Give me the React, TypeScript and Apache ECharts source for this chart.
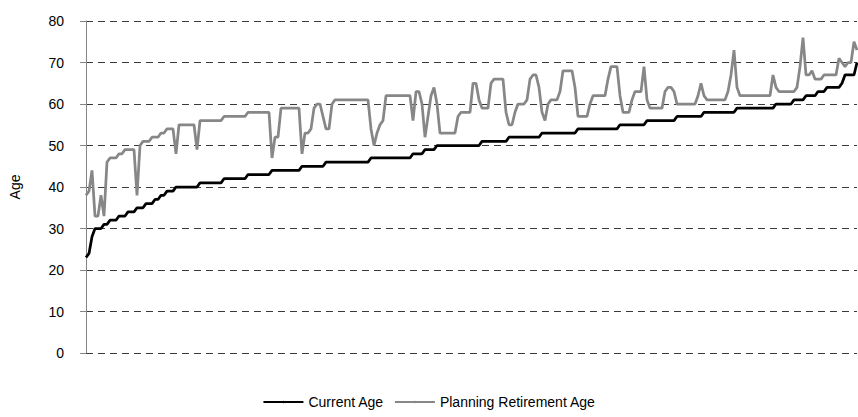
import React, { useEffect, useRef } from "react";
import * as echarts from "echarts";

// Current age of each respondent (sorted ascending)
const currentAge: number[] = [
  23, 24, 28, 30, 30, 30, 31, 31, 32, 32,
  32, 33, 33, 33, 34, 34, 34, 35, 35, 35,
  36, 36, 36, 37, 37, 38, 38, 39, 39, 39,
  40, 40, 40, 40, 40, 40, 40, 40, 41, 41,
  41, 41, 41, 41, 41, 41, 42, 42, 42, 42,
  42, 42, 42, 42, 43, 43, 43, 43, 43, 43,
  43, 43, 44, 44, 44, 44, 44, 44, 44, 44,
  44, 44, 45, 45, 45, 45, 45, 45, 45, 45,
  46, 46, 46, 46, 46, 46, 46, 46, 46, 46,
  46, 46, 46, 46, 46, 47, 47, 47, 47, 47,
  47, 47, 47, 47, 47, 47, 47, 47, 47, 48,
  48, 48, 48, 49, 49, 49, 49, 50, 50, 50,
  50, 50, 50, 50, 50, 50, 50, 50, 50, 50,
  50, 50, 51, 51, 51, 51, 51, 51, 51, 51,
  51, 52, 52, 52, 52, 52, 52, 52, 52, 52,
  52, 52, 53, 53, 53, 53, 53, 53, 53, 53,
  53, 53, 53, 53, 54, 54, 54, 54, 54, 54,
  54, 54, 54, 54, 54, 54, 54, 54, 55, 55,
  55, 55, 55, 55, 55, 55, 55, 56, 56, 56,
  56, 56, 56, 56, 56, 56, 56, 57, 57, 57,
  57, 57, 57, 57, 57, 57, 58, 58, 58, 58,
  58, 58, 58, 58, 58, 58, 58, 59, 59, 59,
  59, 59, 59, 59, 59, 59, 59, 59, 59, 59,
  60, 60, 60, 60, 60, 60, 61, 61, 61, 61,
  62, 62, 62, 62, 63, 63, 63, 64, 64, 64,
  64, 64, 65, 67, 67, 67, 67, 70,
];

// Planned retirement age of the same respondents
const retirementAge: number[] = [
  38, 39, 44, 33, 33, 38, 33, 46, 47, 47,
  47, 48, 48, 49, 49, 49, 49, 38, 50, 51,
  51, 51, 52, 52, 52, 53, 53, 54, 54, 54,
  48, 55, 55, 55, 55, 55, 55, 49, 56, 56,
  56, 56, 56, 56, 56, 56, 57, 57, 57, 57,
  57, 57, 57, 57, 58, 58, 58, 58, 58, 58,
  58, 58, 47, 52, 52, 59, 59, 59, 59, 59,
  59, 59, 48, 53, 53, 54, 59, 60, 60, 57,
  54, 54, 60, 61, 61, 61, 61, 61, 61, 61,
  61, 61, 61, 61, 61, 54, 50, 53, 55, 56,
  62, 62, 62, 62, 62, 62, 62, 62, 62, 56,
  63, 63, 60, 52, 57, 62, 64, 60, 53, 53,
  53, 53, 53, 53, 57, 58, 58, 58, 58, 65,
  65, 61, 59, 59, 59, 65, 66, 66, 66, 66,
  58, 55, 55, 58, 60, 60, 60, 61, 66, 67,
  67, 64, 58, 56, 60, 61, 61, 61, 63, 68,
  68, 68, 68, 64, 57, 57, 57, 57, 60, 62,
  62, 62, 62, 62, 66, 69, 69, 69, 62, 58,
  58, 58, 61, 63, 63, 63, 69, 61, 59, 59,
  59, 59, 59, 63, 64, 64, 63, 60, 60, 60,
  60, 60, 60, 60, 62, 65, 62, 61, 61, 61,
  61, 61, 61, 61, 63, 67, 73, 64, 62, 62,
  62, 62, 62, 62, 62, 62, 62, 62, 62, 67,
  64, 63, 63, 63, 63, 63, 63, 64, 69, 76,
  67, 67, 68, 66, 66, 66, 67, 67, 67, 67,
  67, 71, 70, 69, 70, 70, 75, 73,
];

const respondents: string[] = currentAge.map((_, i) => String(i + 1));
const seriesNames = ["Current Age", "Planning Retirement Age"];
const FONT = "'Liberation Sans', Arial, sans-serif";

export default function App() {
  const ref = useRef<HTMLDivElement>(null);
  useEffect(() => {
    if (!ref.current) return;
    const chart = echarts.init(ref.current, null, { renderer: "svg" });
    chart.setOption({
      animation: false,
      textStyle: { fontFamily: FONT },
      grid: { left: 86, right: 1, top: 21, bottom: 64, containLabel: false },
      legend: {
        bottom: 3,
        left: "center",
        itemWidth: 40,
        itemHeight: 3,
        itemGap: 10,
        textStyle: { fontFamily: FONT, fontSize: 14, color: "#000" },
        data: seriesNames,
      },
      xAxis: {
        type: "category",
        data: respondents,
        boundaryGap: false,
        axisLine: { show: false },
        axisTick: { show: false },
        axisLabel: { show: false },
        splitLine: { show: false },
      },
      yAxis: {
        type: "value",
        min: 0,
        max: 80,
        interval: 10,
        name: "Age",
        nameLocation: "middle",
        nameGap: 64,
        nameTextStyle: { fontFamily: FONT, fontSize: 14, color: "#000" },
        axisLine: { show: true, lineStyle: { color: "#868686", width: 1 } },
        axisTick: { show: true, length: 6, lineStyle: { color: "#868686" } },
        axisLabel: { margin: 22, fontFamily: FONT, fontSize: 14, color: "#000" },
        splitLine: { show: true, lineStyle: { color: "#3a3a3a", width: 1, type: [7, 5] } },
      },
      series: [
        {
          name: seriesNames[0],
          type: "line",
          data: currentAge,
          symbol: "none",
          lineStyle: { color: "#000000", width: 2.75 },
          itemStyle: { color: "#000000" },
        },
        {
          name: seriesNames[1],
          type: "line",
          data: retirementAge,
          symbol: "none",
          lineStyle: { color: "#878787", width: 2.75 },
          itemStyle: { color: "#878787" },
        },
      ],
    });
    return () => chart.dispose();
  }, []);
  return (
    <div
      ref={ref}
      style={{ position: "fixed", left: 0, top: 0, width: 858, height: 417, background: "#fff" }}
    />
  );
}
